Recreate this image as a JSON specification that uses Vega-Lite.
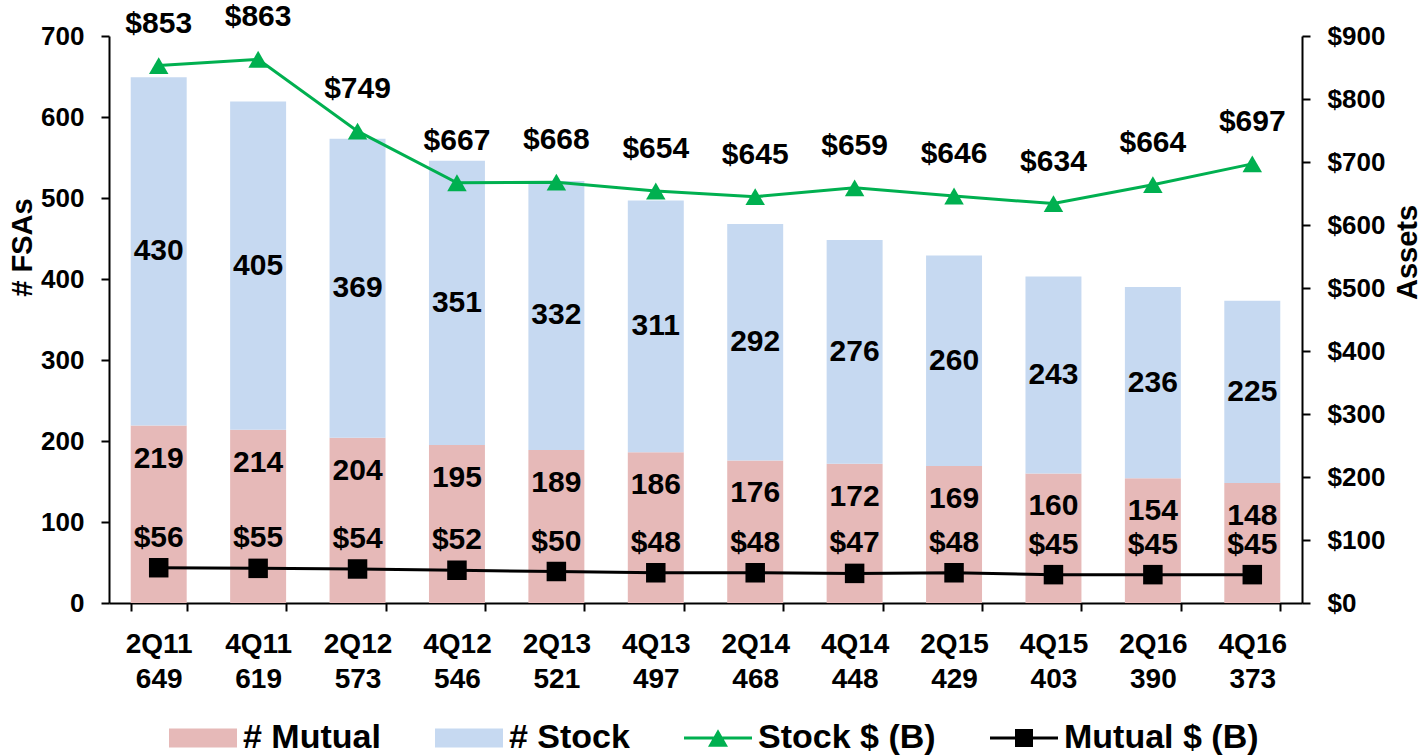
{
  "$schema": "https://vega.github.io/schema/vega-lite/v6.json",
  "width": 1193,
  "height": 567,
  "autosize": {"type": "none"},
  "padding": {"left": 109, "top": 36, "right": 122, "bottom": 152},
  "background": "white",
  "config": {
    "font": "Liberation Sans",
    "view": {"stroke": null},
    "axis": {
      "grid": false,
      "labelFont": "Liberation Sans",
      "titleFont": "Liberation Sans",
      "labelFontWeight": "bold",
      "titleFontWeight": "bold",
      "labelColor": "black",
      "titleColor": "black",
      "domainColor": "black",
      "tickColor": "black",
      "domainWidth": 2,
      "tickWidth": 2,
      "tickSize": 8
    },
    "legend": {
      "orient": "none",
      "legendX": 48,
      "legendY": 685,
      "direction": "horizontal",
      "padding": 0,
      "labelFont": "Liberation Sans",
      "labelFontSize": 34,
      "labelFontWeight": "bold",
      "labelColor": "black",
      "labelLimit": 400,
      "labelOffset": 52,
      "columnPadding": 42,
      "symbolSize": 100
    },
    "text": {"font": "Liberation Sans", "fontWeight": "bold", "fontSize": 30, "color": "black"}
  },
  "datasets": {
    "bars": [
      {"period": "2Q11 649", "series": "# Mutual", "n": 219},
      {"period": "2Q11 649", "series": "# Stock", "n": 430},
      {"period": "4Q11 619", "series": "# Mutual", "n": 214},
      {"period": "4Q11 619", "series": "# Stock", "n": 405},
      {"period": "2Q12 573", "series": "# Mutual", "n": 204},
      {"period": "2Q12 573", "series": "# Stock", "n": 369},
      {"period": "4Q12 546", "series": "# Mutual", "n": 195},
      {"period": "4Q12 546", "series": "# Stock", "n": 351},
      {"period": "2Q13 521", "series": "# Mutual", "n": 189},
      {"period": "2Q13 521", "series": "# Stock", "n": 332},
      {"period": "4Q13 497", "series": "# Mutual", "n": 186},
      {"period": "4Q13 497", "series": "# Stock", "n": 311},
      {"period": "2Q14 468", "series": "# Mutual", "n": 176},
      {"period": "2Q14 468", "series": "# Stock", "n": 292},
      {"period": "4Q14 448", "series": "# Mutual", "n": 172},
      {"period": "4Q14 448", "series": "# Stock", "n": 276},
      {"period": "2Q15 429", "series": "# Mutual", "n": 169},
      {"period": "2Q15 429", "series": "# Stock", "n": 260},
      {"period": "4Q15 403", "series": "# Mutual", "n": 160},
      {"period": "4Q15 403", "series": "# Stock", "n": 243},
      {"period": "2Q16 390", "series": "# Mutual", "n": 154},
      {"period": "2Q16 390", "series": "# Stock", "n": 236},
      {"period": "4Q16 373", "series": "# Mutual", "n": 148},
      {"period": "4Q16 373", "series": "# Stock", "n": 225}
    ],
    "assets": [
      {"period": "2Q11 649", "series": "Stock $ (B)", "v": 853},
      {"period": "4Q11 619", "series": "Stock $ (B)", "v": 863},
      {"period": "2Q12 573", "series": "Stock $ (B)", "v": 749},
      {"period": "4Q12 546", "series": "Stock $ (B)", "v": 667},
      {"period": "2Q13 521", "series": "Stock $ (B)", "v": 668},
      {"period": "4Q13 497", "series": "Stock $ (B)", "v": 654},
      {"period": "2Q14 468", "series": "Stock $ (B)", "v": 645},
      {"period": "4Q14 448", "series": "Stock $ (B)", "v": 659},
      {"period": "2Q15 429", "series": "Stock $ (B)", "v": 646},
      {"period": "4Q15 403", "series": "Stock $ (B)", "v": 634},
      {"period": "2Q16 390", "series": "Stock $ (B)", "v": 664},
      {"period": "4Q16 373", "series": "Stock $ (B)", "v": 697},
      {"period": "2Q11 649", "series": "Mutual $ (B)", "v": 56},
      {"period": "4Q11 619", "series": "Mutual $ (B)", "v": 55},
      {"period": "2Q12 573", "series": "Mutual $ (B)", "v": 54},
      {"period": "4Q12 546", "series": "Mutual $ (B)", "v": 52},
      {"period": "2Q13 521", "series": "Mutual $ (B)", "v": 50},
      {"period": "4Q13 497", "series": "Mutual $ (B)", "v": 48},
      {"period": "2Q14 468", "series": "Mutual $ (B)", "v": 48},
      {"period": "4Q14 448", "series": "Mutual $ (B)", "v": 47},
      {"period": "2Q15 429", "series": "Mutual $ (B)", "v": 48},
      {"period": "4Q15 403", "series": "Mutual $ (B)", "v": 45},
      {"period": "2Q16 390", "series": "Mutual $ (B)", "v": 45},
      {"period": "4Q16 373", "series": "Mutual $ (B)", "v": 45}
    ]
  },
  "layer": [
    {
      "data": {"name": "bars"},
      "layer": [
        {
          "mark": {"type": "bar"},
          "encoding": {
            "x": {
              "field": "period", "type": "nominal", "sort": null, "title": null,
              "scale": {"paddingInner": 0.437, "paddingOuter": 0.2185},
              "axis": {
                "labelExpr": "split(datum.label, ' ')",
                "labelAngle": 0,
                "labelFontSize": 28,
                "labelLineHeight": 35,
                "labelBaseline": "top",
                "labelPadding": 19,
                "tickBand": "extent"
              }
            },
            "y": {
              "field": "n", "type": "quantitative", "stack": "zero", "title": "# FSAs",
              "scale": {"domain": [0, 700], "nice": false},
              "axis": {
                "values": [0, 100, 200, 300, 400, 500, 600, 700],
                "labelFontSize": 26,
                "labelPadding": 17,
                "titleFontSize": 29,
                "titleAngle": -90,
                "titleBaseline": "middle",
                "titleX": -87,
                "titleY": 211
              }
            },
            "color": {
              "field": "series", "type": "nominal", "title": null,
              "scale": {
                "domain": ["# Mutual", "# Stock", "Stock $ (B)", "Mutual $ (B)"],
                "range": ["#E6B9B8", "#C6D9F1", "#00B050", "#000000"]
              },
              "legend": {
                "title": null,
                "values": ["# Mutual", "# Stock", "Stock $ (B)", "Mutual $ (B)"],
                "encode": {
                  "symbols": {
                    "update": {
                      "shape": {"signal": "datum.value === '# Mutual' || datum.value === '# Stock' ? 'M-1,-1.9H12.6V1.9H-1Z' : datum.value === 'Stock $ (B)' ? 'M-1,-0.3H12.6V0.3H-1Z M3.8,1.73L5.8,-1.73L7.8,1.73Z' : 'M-1,-0.3H12.6V0.3H-1Z M4,-1.8H7.6V1.8H4Z'"},
                      "fill": {"signal": "datum.value === '# Mutual' ? '#E6B9B8' : datum.value === '# Stock' ? '#C6D9F1' : datum.value === 'Stock $ (B)' ? '#00B050' : '#000000'"},
                      "stroke": {"value": "transparent"},
                      "strokeWidth": {"value": 0},
                      "opacity": {"value": 1},
                      "fillOpacity": {"value": 1},
                      "size": {"value": 100}
                    }
                  }
                }
              }
            },
            "order": {"field": "series", "sort": "ascending"}
          }
        },
        {
          "transform": [
            {"stack": "n", "groupby": ["period"], "sort": [{"field": "series", "order": "ascending"}], "as": ["y0", "y1"]},
            {"filter": "datum.series === '# Stock'"},
            {"fold": ["y0", "y1"], "as": ["edge", "pos"]}
          ],
          "mark": {"type": "text", "baseline": "middle", "align": "center"},
          "encoding": {
            "x": {"field": "period", "type": "nominal", "sort": null},
            "y": {"aggregate": "mean", "field": "pos", "type": "quantitative", "title": "# FSAs"},
            "text": {"field": "n", "type": "quantitative"}
          }
        },
        {
          "transform": [{"filter": "datum.series === '# Mutual'"}],
          "mark": {"type": "text", "baseline": "middle", "align": "center", "dy": 33},
          "encoding": {
            "x": {"field": "period", "type": "nominal", "sort": null},
            "y": {"field": "n", "type": "quantitative", "title": "# FSAs"},
            "text": {"field": "n", "type": "quantitative"}
          }
        }
      ]
    },
    {
      "data": {"name": "assets"},
      "layer": [
        {
          "mark": {"type": "line", "strokeWidth": 3},
          "encoding": {
            "x": {"field": "period", "type": "nominal", "sort": null},
            "y": {
              "field": "v", "type": "quantitative", "title": "Assets",
              "scale": {"domain": [0, 900], "nice": false},
              "axis": {
                "orient": "right",
                "values": [0, 100, 200, 300, 400, 500, 600, 700, 800, 900],
                "labelExpr": "'$' + datum.label",
                "labelFontSize": 26,
                "labelPadding": 17,
                "titleFontSize": 29,
                "titleAngle": -90,
                "titleBaseline": "middle",
                "titleX": 105,
                "titleY": 216
              }
            },
            "color": {"field": "series", "type": "nominal", "title": null}
          }
        },
        {
          "mark": {"type": "point", "filled": true, "opacity": 1, "size": 380},
          "encoding": {
            "x": {"field": "period", "type": "nominal", "sort": null},
            "y": {"field": "v", "type": "quantitative", "title": "Assets"},
            "color": {"field": "series", "type": "nominal", "title": null},
            "shape": {
              "field": "series", "type": "nominal",
              "scale": {"domain": ["Stock $ (B)", "Mutual $ (B)"], "range": ["triangle-up", "square"]},
              "legend": null
            }
          }
        },
        {
          "transform": [{"filter": "datum.series === 'Stock $ (B)'"}],
          "mark": {"type": "text", "baseline": "middle", "align": "center", "dy": -42},
          "encoding": {
            "x": {"field": "period", "type": "nominal", "sort": null},
            "y": {"field": "v", "type": "quantitative", "title": "Assets"},
            "text": {"field": "v", "type": "quantitative", "format": "$d"}
          }
        },
        {
          "transform": [{"filter": "datum.series === 'Mutual $ (B)'"}],
          "mark": {"type": "text", "baseline": "middle", "align": "center", "dy": -30},
          "encoding": {
            "x": {"field": "period", "type": "nominal", "sort": null},
            "y": {"field": "v", "type": "quantitative", "title": "Assets"},
            "text": {"field": "v", "type": "quantitative", "format": "$d"}
          }
        }
      ]
    }
  ],
  "resolve": {"scale": {"y": "independent"}}
}
